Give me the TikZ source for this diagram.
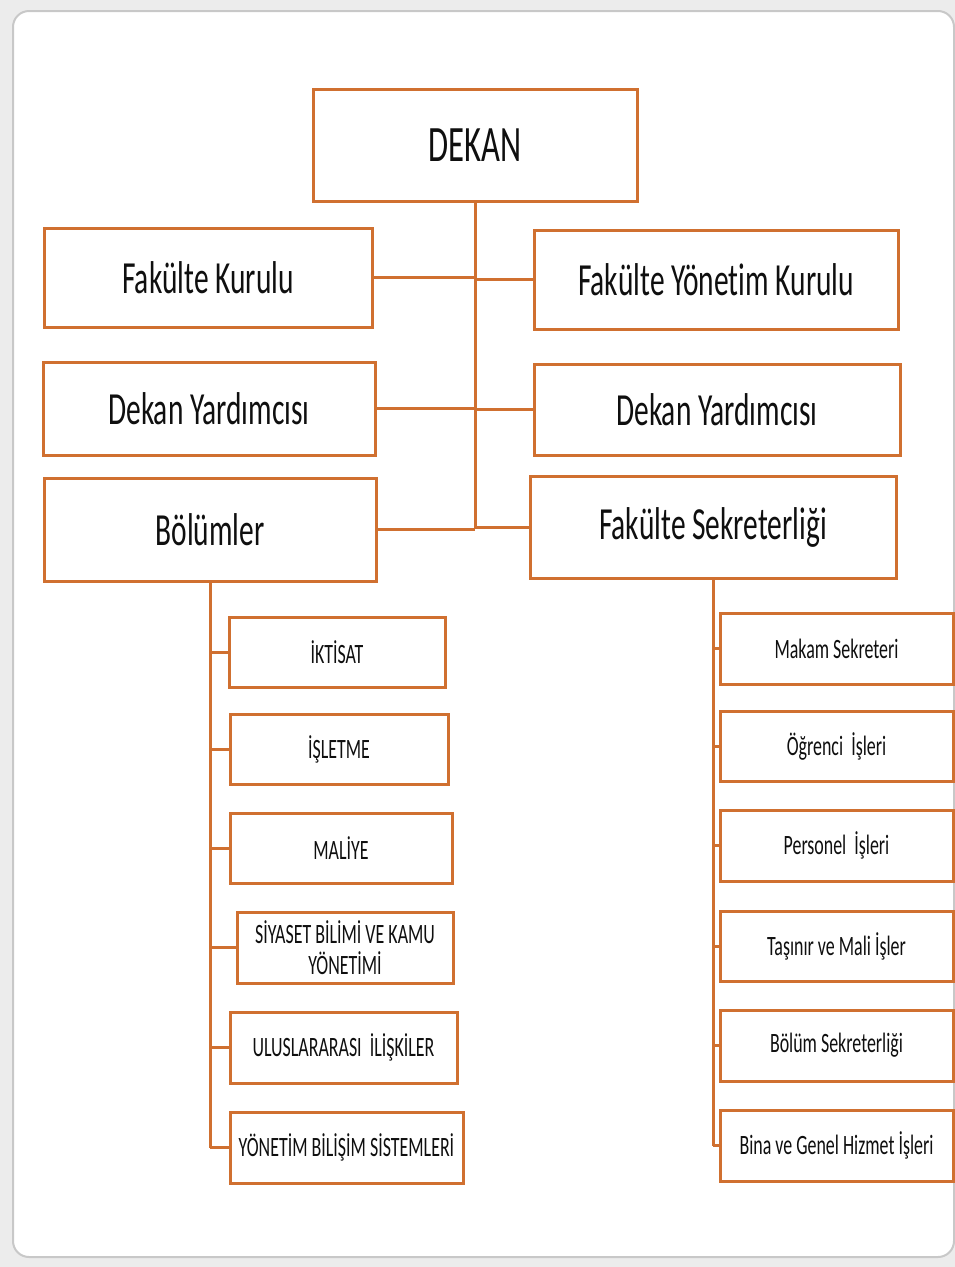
\documentclass[tikz,border=0pt]{standalone}
\usepackage{fontspec}
\setmainfont{Carlito}[FakeStretch=0.64, Ligatures=NoCommon]
\definecolor{orgline}{RGB}{208,112,48}
\definecolor{txtc}{RGB}{15,15,15}
\definecolor{outerbg}{RGB}{236,236,236}
\definecolor{panelline}{RGB}{200,200,200}
\tikzset{
  box/.style={draw=orgline, line width=3pt, fill=white, rectangle, inner sep=0pt, text=txtc, align=center},
  bigbox/.style={box, font=\fontsize{46}{52}\selectfont},
  smallbox/.style={box, font=\fontsize{28}{31}\selectfont},
  conn/.style={draw=orgline, line width=3pt},
}
\begin{document}
\begin{tikzpicture}[x=1pt,y=-1pt]
\useasboundingbox (0,0) rectangle (955,1267);
\fill[outerbg] (0,0) rectangle (955,1267);
\draw[panelline, line width=2pt, fill=white, rounded corners=16pt] (13,11) rectangle (954,1257);

% top level
\node[box, font=\fontsize{51}{56}\selectfont, minimum width=324pt, minimum height=112pt] (dekan) at (475,145) {DEKAN};
\node[bigbox, minimum width=328pt, minimum height=99pt] (fk) at (208,277.5) {Fakülte Kurulu};
\node[bigbox, minimum width=364pt, minimum height=99pt] (fyk) at (716,279.5) {Fakülte Yönetim Kurulu};
\node[bigbox, minimum width=332pt, minimum height=93pt] (dyl) at (209,408.5) {Dekan Yardımcısı};
\node[bigbox, minimum width=366pt, minimum height=91pt] (dyr) at (717,409.5) {Dekan Yardımcısı};
\node[bigbox, minimum width=332pt, minimum height=103pt] (bol) at (210,529.5) {Bölümler};
\node[bigbox, minimum width=366pt, minimum height=102pt] (fsek) at (713,527) {\raisebox{-3pt}{Fakülte Sekreterliği}};

% departments
\node[smallbox, minimum width=216pt, minimum height=70pt] (ikt) at (337,652) {İKTİSAT};
\node[smallbox, minimum width=218pt, minimum height=70pt] (isl) at (339,749) {İŞLETME};
\node[smallbox, minimum width=222pt, minimum height=70pt] (mal) at (341,848) {MALİYE};
\node[smallbox, minimum width=216pt, minimum height=71pt] (siy) at (345,947.5) {SİYASET BİLİMİ VE KAMU\\YÖNETİMİ};
\node[smallbox, minimum width=227pt, minimum height=71pt] (ulu) at (343.5,1047.5) {ULUSLARARASI\ \ İLİŞKİLER};
\node[smallbox, minimum width=233pt, minimum height=71pt] (ybs) at (346.5,1147.5) {YÖNETİM BİLİŞİM SİSTEMLERİ};

% secretariat units
\node[smallbox, minimum width=233pt, minimum height=71pt] (mak) at (836.5,648.5) {Makam Sekreteri};
\node[smallbox, minimum width=233pt, minimum height=70pt] (ogr) at (836.5,746) {Öğrenci\ \ İşleri};
\node[smallbox, minimum width=233pt, minimum height=71pt] (per) at (836.5,845.5) {Personel\ \ İşleri};
\node[smallbox, minimum width=233pt, minimum height=70pt] (tas) at (836.5,946) {Taşınır ve Mali İşler};
\node[smallbox, minimum width=233pt, minimum height=71pt] (bsk) at (836.5,1045.5) {Bölüm Sekreterliği};
\node[smallbox, minimum width=233pt, minimum height=71pt] (bina) at (836.5,1145.5) {Bina ve Genel Hizmet İşleri};

% connectors
\coordinate (trunkend) at (475,529);
\draw[conn] (dekan.south) -- (trunkend);
\draw[conn] (fk.east) -- (fk.east -| trunkend);
\draw[conn] (fyk.west) -- (fyk.west -| trunkend);
\draw[conn] (dyl.east) -- (dyl.east -| trunkend);
\draw[conn] (dyr.west) -- (dyr.west -| trunkend);
\draw[conn] (bol.east) -- (bol.east -| trunkend);
\draw[conn] (fsek.west) -- (fsek.west -| trunkend);

\coordinate (lend) at (bol.south |- ybs.west);
\draw[conn] (bol.south) -- (lend);
\foreach \n in {ikt,isl,mal,siy,ulu,ybs} {
  \draw[conn] (\n.west) -- (\n.west -| bol.south);
}
\coordinate (rend) at (fsek.south |- bina.west);
\draw[conn] (fsek.south) -- (rend);
\foreach \n in {mak,ogr,per,tas,bsk,bina} {
  \draw[conn] (\n.west) -- (\n.west -| fsek.south);
}
\end{tikzpicture}
\end{document}
